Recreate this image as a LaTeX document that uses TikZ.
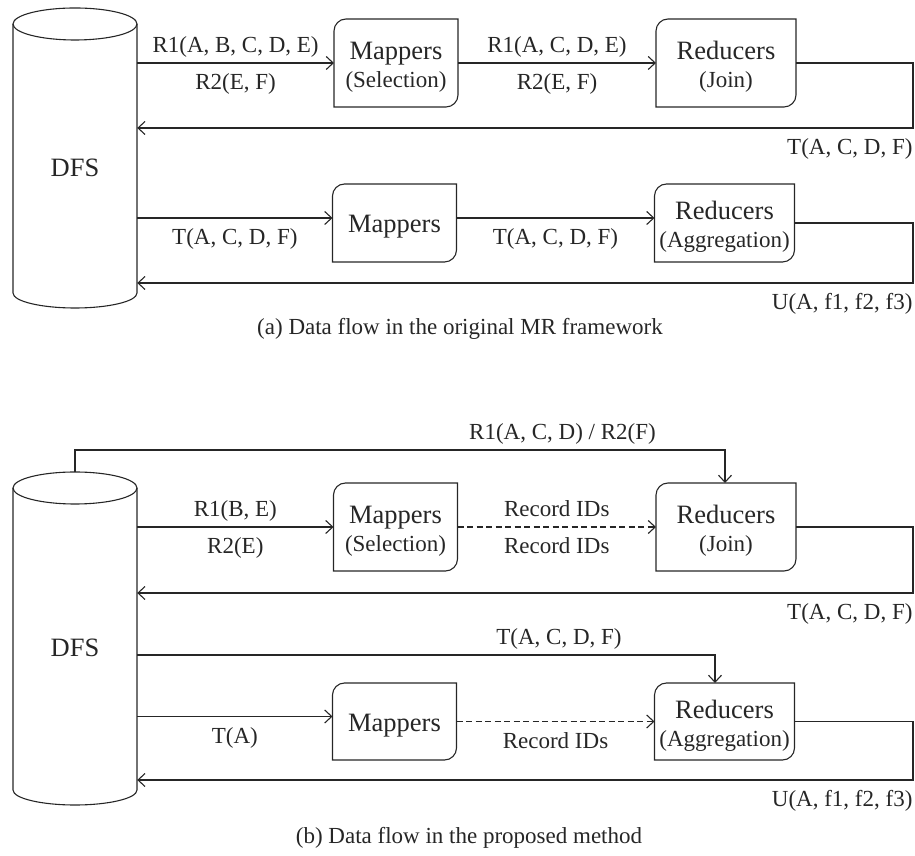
\documentclass[tikz,border=0pt]{standalone}
\usepackage{fontspec}
\setmainfont{Liberation Serif}
\usetikzlibrary{arrows.meta}

\newcommand{\bigsize}{\fontsize{26.5}{28}\selectfont}
\newcommand{\midsize}{\fontsize{23}{27}\selectfont}

% box with two rounded corners (top left, bottom right)
\newcommand{\jobframe}[1]{%
  \draw[wire] ([yshift=-12pt]#1.north west) arc[start angle=180, end angle=90, radius=12pt]
    -- (#1.north east) -- ([yshift=12pt]#1.south east)
    arc[start angle=0, end angle=-90, radius=12pt] -- (#1.south west) -- cycle;}

\tikzset{
  wire/.style={draw=black!85, line width=1.1pt},
  flow/.style={wire, -{Straight Barb[length=7pt,width=13pt]}},
  idflow/.style={flow, dash pattern=on 6pt off 3.5pt},
  procbox/.style={inner sep=0pt, outer sep=0pt, minimum height=88pt},
  mapbox/.style={procbox, minimum width=124pt},
  redbox/.style={procbox, minimum width=140pt},
  boxtext/.style={align=center, font=\bigsize, text=black!85, yshift=-4pt},
  lbl/.style={font=\midsize, text=black!85, text height=16pt, text depth=5pt},
  lblup/.style={lbl, above=2pt},
  lbldn/.style={lbl, below=7pt},
  lblright/.style={lbl, anchor=north east, inner xsep=0pt, yshift=-7pt},
  captext/.style={font=\midsize, text=black!85},
  dfs/.style={font=\bigsize, text=black!85, minimum width=124pt, inner sep=0pt}
}

\begin{document}
\begin{tikzpicture}[x=1pt, y=1pt]
\useasboundingbox (0,0) rectangle (915,856);

% (a) storage
\draw[wire] (13,832) -- (13,563) arc[start angle=180, end angle=360, x radius=62, y radius=15] -- (137,832);
\draw[wire] (75,832) ellipse[x radius=62, y radius=16];
\node[dfs] (dfsA) at (75,688) {DFS};

% (a) selection and join
\node[mapbox, label={[boxtext]center:Mappers\\{\midsize (Selection)}}] (mapA) at (396,793) {};
\node[redbox, label={[boxtext]center:Reducers\\{\midsize (Join)}}] (redA) at (726,793) {};
\jobframe{mapA}
\jobframe{redA}

\draw[flow] (dfsA.east |- mapA.west) -- node[lblup] (ra1) {R1(A, B, C, D, E)} node[lbldn] (ra2) {R2(E, F)} (mapA.west);
\draw[flow] (mapA.east) -- node[lblup] (ra3) {R1(A, C, D, E)} node[lbldn] (ra4) {R2(E, F)} (redA.west);
\coordinate (rtA) at (913,728);
\draw[flow] (redA.east) -| (rtA) node[lblright] (ta1) {T(A, C, D, F)} -- (dfsA.east |- rtA);

% (a) aggregation
\node[mapbox, minimum height=78pt, label={[boxtext]center:Mappers}] (mapA2) at (394.5,633) {};
\node[redbox, minimum height=78pt, label={[boxtext]center:Reducers\\{\midsize (Aggregation)}}] (redA2) at (724.5,633) {};
\jobframe{mapA2}
\jobframe{redA2}

\coordinate (inA2) at ([yshift=5pt]mapA2.west);
\draw[flow] (dfsA.east |- inA2) -- node[lbldn] (ta2) {T(A, C, D, F)} (inA2);
\draw[flow] ([yshift=5pt]mapA2.east) -- node[lbldn] (ta3) {T(A, C, D, F)} ([yshift=5pt]redA2.west);
\coordinate (rtA2) at (913,573);
\draw[flow] (redA2.east) -| (rtA2) node[lblright] (ua) {U(A, f1, f2, f3)} -- (dfsA.east |- rtA2);

\node[captext] (capA) at (460,527) {(a) Data flow in the original MR framework};

% (b) storage
\draw[wire] (13,368) -- (13,66) arc[start angle=180, end angle=360, x radius=62, y radius=15] -- (137,368);
\draw[wire] (75,368) ellipse[x radius=62, y radius=16];
\node[dfs] (dfsB) at (75,208) {DFS};
\coordinate (topB) at (75,384);

% (b) selection and join
\node[mapbox, label={[boxtext]center:Mappers\\{\midsize (Selection)}}] (mapB) at (395.5,329) {};
\node[redbox, label={[boxtext]center:Reducers\\{\midsize (Join)}}] (redB) at (726,329) {};
\jobframe{mapB}
\jobframe{redB}

\coordinate (ovB) at (725,406);
\draw[flow] (topB) |- node[lblup, pos=0.875] (rb0) {R1(A, C, D) / R2(F)} (ovB) -- (ovB |- redB.north);
\draw[flow] (dfsB.east |- mapB.west) -- node[lblup] (rb1) {R1(B, E)} node[lbldn] (rb2) {R2(E)} (mapB.west);
\draw[idflow] (mapB.east) -- node[lblup] (id1) {Record IDs} node[lbldn] (id2) {Record IDs} (redB.west);
\coordinate (rtB) at (913,263);
\draw[flow] (redB.east) -| (rtB) node[lblright] (tb1) {T(A, C, D, F)} -- (dfsB.east |- rtB);

% (b) aggregation
\node[mapbox, minimum height=77pt, label={[boxtext]center:Mappers}] (mapB2) at (394.5,134.5) {};
\node[redbox, minimum height=77pt, label={[boxtext]center:Reducers\\{\midsize (Aggregation)}}] (redB2) at (724.5,134.5) {};
\jobframe{mapB2}
\jobframe{redB2}

\coordinate (ovB2) at (715,201);
\draw[flow] (dfsB.east |- ovB2) -- node[lblup, pos=0.73] (tb2) {T(A, C, D, F)} (ovB2) -- (ovB2 |- redB2.north);
\coordinate (inB2) at ([yshift=5pt]mapB2.west);
\draw[flow] (dfsB.east |- inB2) -- node[lbldn] (tb3) {T(A)} (inB2);
\draw[idflow] (mapB2.east) -- node[lbldn] (id3) {Record IDs} (redB2.west);
\coordinate (rtB2) at (913,76);
\draw[flow] (redB2.east) -| (rtB2) node[lblright] (ub) {U(A, f1, f2, f3)} -- (dfsB.east |- rtB2);

\node[captext] (capB) at (469,18) {(b) Data flow in the proposed method};

\end{tikzpicture}
\end{document}
